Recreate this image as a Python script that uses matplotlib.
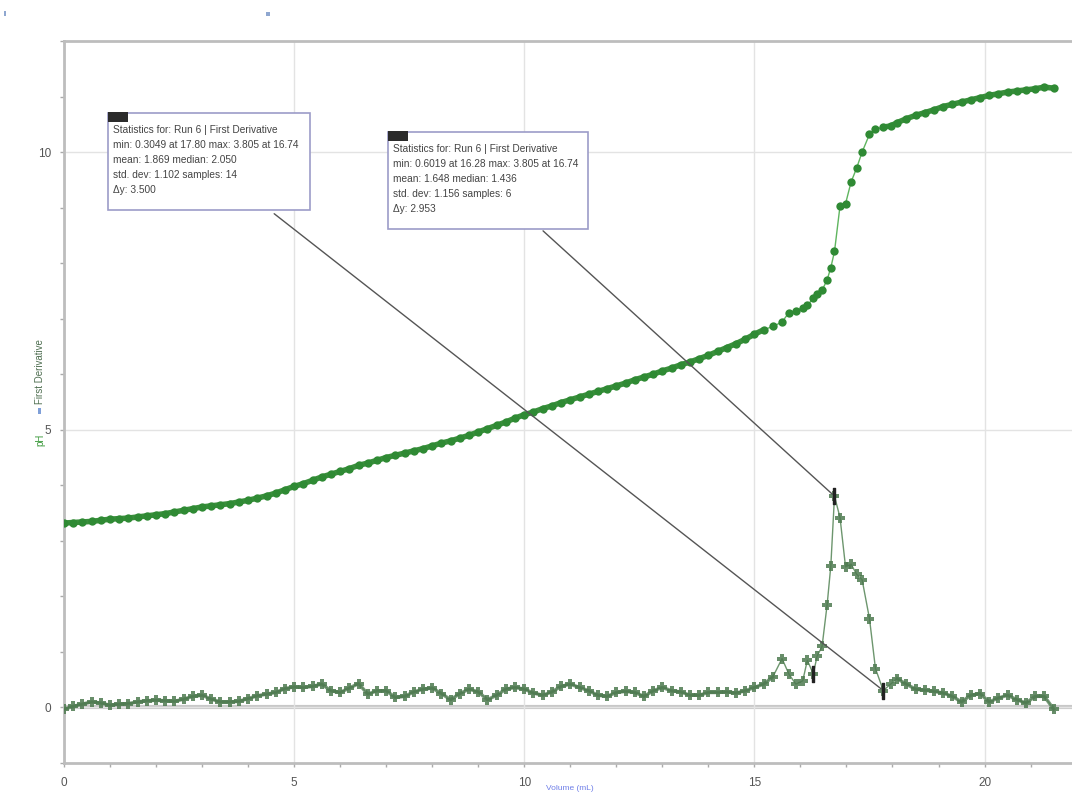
import matplotlib.pyplot as plt
from matplotlib.patches import Rectangle
from matplotlib.ticker import MultipleLocator

# titration run: volume added (mL), pH reading and first derivative of pH
volume = [0.0, 0.2, 0.4, 0.6, 0.8, 1.0, 1.2, 1.4, 1.6, 1.8,
          2.0, 2.2, 2.4, 2.6, 2.8, 3.0, 3.2, 3.4, 3.6, 3.8,
          4.0, 4.2, 4.4, 4.6, 4.8, 5.0, 5.2, 5.4, 5.6, 5.8,
          6.0, 6.2, 6.4, 6.6, 6.8, 7.0, 7.2, 7.4, 7.6, 7.8,
          8.0, 8.2, 8.4, 8.6, 8.8, 9.0, 9.2, 9.4, 9.6, 9.8,
          10.0, 10.2, 10.4, 10.6, 10.8, 11.0, 11.2, 11.4, 11.6, 11.8,
          12.0, 12.2, 12.4, 12.6, 12.8, 13.0, 13.2, 13.4, 13.6, 13.8,
          14.0, 14.2, 14.4, 14.6, 14.8, 15.0, 15.2, 15.4, 15.6, 15.75,
          15.9, 16.05, 16.15, 16.28, 16.36, 16.47, 16.58, 16.66, 16.74, 16.86,
          16.98, 17.1, 17.22, 17.34, 17.5, 17.63, 17.8, 17.96, 18.1, 18.3,
          18.5, 18.7, 18.9, 19.1, 19.3, 19.5, 19.7, 19.9, 20.1, 20.3,
          20.5, 20.7, 20.9, 21.1, 21.3, 21.5]

ph = [3.32, 3.33, 3.34, 3.35, 3.37, 3.39, 3.40, 3.41, 3.43, 3.45,
      3.47, 3.49, 3.52, 3.55, 3.58, 3.61, 3.63, 3.65, 3.67, 3.70,
      3.73, 3.77, 3.81, 3.86, 3.92, 3.98, 4.03, 4.09, 4.15, 4.20,
      4.25, 4.30, 4.36, 4.40, 4.45, 4.50, 4.54, 4.58, 4.62, 4.66,
      4.71, 4.76, 4.80, 4.85, 4.90, 4.96, 5.02, 5.08, 5.14, 5.21,
      5.27, 5.32, 5.38, 5.43, 5.49, 5.54, 5.59, 5.64, 5.69, 5.74,
      5.79, 5.84, 5.90, 5.95, 6.00, 6.06, 6.11, 6.17, 6.22, 6.28,
      6.34, 6.41, 6.48, 6.55, 6.63, 6.72, 6.80, 6.86, 6.94, 7.11,
      7.14, 7.20, 7.24, 7.37, 7.45, 7.51, 7.70, 7.92, 8.21, 9.03,
      9.07, 9.46, 9.71, 10.00, 10.32, 10.41, 10.45, 10.47, 10.53, 10.60,
      10.66, 10.71, 10.76, 10.82, 10.86, 10.90, 10.94, 10.98, 11.02, 11.05,
      11.08, 11.10, 11.12, 11.14, 11.17, 11.15]

dph = [-0.03, 0.02, 0.06, 0.10, 0.08, 0.04, 0.06, 0.07, 0.10, 0.12,
       0.13, 0.12, 0.11, 0.15, 0.20, 0.22, 0.15, 0.10, 0.10, 0.11,
       0.16, 0.21, 0.24, 0.27, 0.34, 0.37, 0.36, 0.38, 0.42, 0.30,
       0.27, 0.35, 0.43, 0.24, 0.30, 0.30, 0.18, 0.20, 0.28, 0.33,
       0.35, 0.25, 0.14, 0.25, 0.33, 0.28, 0.14, 0.22, 0.33, 0.36,
       0.33, 0.26, 0.22, 0.28, 0.38, 0.42, 0.36, 0.30, 0.22, 0.20,
       0.27, 0.29, 0.27, 0.20, 0.30, 0.36, 0.30, 0.28, 0.22, 0.22,
       0.27, 0.27, 0.28, 0.26, 0.30, 0.36, 0.42, 0.55, 0.88, 0.60,
       0.42, 0.48, 0.85, 0.6019, 0.92, 1.10, 1.85, 2.55, 3.805, 3.42,
       2.53, 2.58, 2.40, 2.30, 1.60, 0.70, 0.3049, 0.42, 0.52, 0.42,
       0.33, 0.31, 0.29, 0.26, 0.20, 0.10, 0.22, 0.25, 0.10, 0.17,
       0.22, 0.14, 0.08, 0.20, 0.20, -0.03]

# selected regions for the statistics boxes (edges in mL)
region_edges = [16.28, 16.74, 17.80]
stats_run_all = ["Statistics for: Run 6 | First Derivative",
                 "min: 0.3049 at 17.80 max: 3.805 at 16.74",
                 "mean: 1.869 median: 2.050",
                 "std. dev: 1.102 samples: 14",
                 "\u0394y: 3.500"]
stats_run_rise = ["Statistics for: Run 6 | First Derivative",
                  "min: 0.6019 at 16.28 max: 3.805 at 16.74",
                  "mean: 1.648 median: 1.436",
                  "std. dev: 1.156 samples: 6",
                  "\u0394y: 2.953"]

plt.rcParams['font.family'] = ['Liberation Sans', 'DejaVu Sans']

fig = plt.figure(figsize=(10.72, 7.96), dpi=100)
ax = fig.add_axes([64/1072, 1-763/796, 1-64/1072, (763-41)/796])

ax.set_xlim(0, 21.9)
ax.set_ylim(-1, 12)
ax.xaxis.set_major_locator(MultipleLocator(5))
ax.xaxis.set_minor_locator(MultipleLocator(1))
ax.yaxis.set_major_locator(MultipleLocator(5))
ax.yaxis.set_minor_locator(MultipleLocator(1))
ax.tick_params(which='both', length=3, width=1, color='#aaaaaa', labelsize=8.5, labelcolor='#555555')
ax.tick_params(axis='y', pad=6)
ax.tick_params(axis='x', pad=7)

for s in ['left', 'bottom', 'top']:
    ax.spines[s].set_color('#bdbdbd')
    ax.spines[s].set_linewidth(2)
ax.spines['right'].set_visible(False)

ax.grid(True, which='major', color='#e3e3e3', linewidth=1)
ax.axhline(0, color='#c8c8c8', linewidth=3, zorder=1)

# pH curve
ax.plot(volume, ph, color='#5fb55f', linewidth=1, zorder=3)
ax.plot(volume[:77], ph[:77], color='#3a8f3c', linewidth=4, solid_capstyle='round', zorder=3)
ax.plot(volume[96:], ph[96:], color='#3a8f3c', linewidth=4, solid_capstyle='round', zorder=3)
ax.plot(volume, ph, linestyle='none', marker='o', markersize=6,
        color='#2f8a34', markeredgewidth=0, zorder=4)

# first derivative curve
ax.plot(volume, dph, color='#6d966e', linewidth=1, zorder=3)
ax.plot(volume[:78], dph[:78], color='#5a835c', linewidth=2.5, alpha=0.8, zorder=3)
ax.plot(volume[98:], dph[98:], color='#5a835c', linewidth=2.5, alpha=0.8, zorder=3)
ax.plot(volume, dph, linestyle='none', marker='P', markersize=6.5,
        color='#4e7a50', markeredgewidth=0, alpha=0.85, zorder=4)

# region bracket marks
for e in region_edges:
    i = volume.index(e)
    ax.plot(volume[i], dph[i], marker='$\\mathrm{I}$', markersize=11,
            color='#222222', zorder=6)

# leader lines from the statistics boxes
ax.annotate('', xy=(17.80, 0.3049), xycoords='data',
            xytext=(272/1072, 1-212/796), textcoords='figure fraction',
            arrowprops=dict(arrowstyle='-', color='#555555', lw=1), zorder=5)
ax.annotate('', xy=(16.74, 3.805), xycoords='data',
            xytext=(541/1072, 1-229/796), textcoords='figure fraction',
            arrowprops=dict(arrowstyle='-', color='#555555', lw=1), zorder=5)

# statistics boxes
for (l, t, r, b), lines in [((108, 113, 310, 210), stats_run_all),
                            ((388, 132, 588, 229), stats_run_rise)]:
    fig.patches.append(Rectangle((l/1072, 1-b/796), (r-l)/1072, (b-t)/796,
                                 transform=fig.transFigure, facecolor='white',
                                 edgecolor='#9c9cc8', linewidth=1.2, zorder=7))
    fig.patches.append(Rectangle((l/1072, 1-(t+9)/796), 20/1072, 10/796,
                                 transform=fig.transFigure, facecolor='#2b2b2b',
                                 edgecolor='none', zorder=8))
    fig.text((l+5)/1072, 1-(t+12)/796, "\n".join(lines), fontsize=7.3,
             color='#444444', va='top', ha='left', linespacing=1.62, zorder=9)

# axis labels
fig.text(40/1072, 1-440/796, "pH", rotation=90, fontsize=7, color='#3d9a3d',
         ha='center', va='center')
fig.patches.append(Rectangle((38/1072, 1-414/796), 3/1072, 6/796,
                             transform=fig.transFigure, facecolor='#7f9fd8', edgecolor='none'))
fig.text(40/1072, 1-372/796, "First Derivative", rotation=90, fontsize=7,
         color='#4e6e50', ha='center', va='center')
fig.text(570/1072, 1-789/796, "Volume (mL)", fontsize=6, color='#6f7fe8',
         ha='center', va='center')

# small marks along the top edge
fig.patches.append(Rectangle((4/1072, 1-16/796), 2/1072, 5/796,
                             transform=fig.transFigure, facecolor='#8fa7d0', edgecolor='none'))
fig.patches.append(Rectangle((266/1072, 1-16/796), 4/1072, 4/796,
                             transform=fig.transFigure, facecolor='#8fa7d0', edgecolor='none'))

fig.savefig("out.png", dpi=100)
